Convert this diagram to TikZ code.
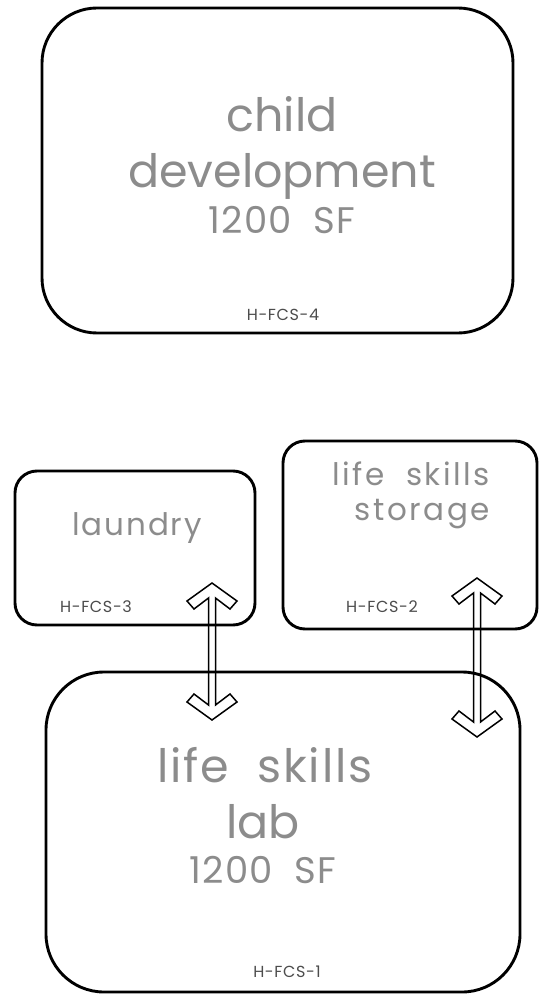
\documentclass[tikz,border=0pt]{standalone}
\usepackage{fontspec}
\setmainfont{Poppins}[WordSpace=2]
\usetikzlibrary{calc}
\tikzset{
  room/.style={draw,line width=2.9pt,rounded corners=#1,inner sep=0pt},
  roomname/.style={anchor=base,text=black!45,inner sep=0pt},
  idtag/.style={anchor=base,text=black!70,inner sep=0pt,font=\fontsize{16}{18}\selectfont\addfontfeature{LetterSpace=4}},
  passage/.style={draw,line width=1.5pt,line join=miter}
}
\newcommand{\twoway}[2]{%
  \draw[passage] (#1) -- ($(#1)+(25,18)$) -- ($(#1)+(18,26)$) -- ($(#1)+(3.5,15)$)
    -- ($(#2)+(3.5,-15)$) -- ($(#2)+(18,-26)$) -- ($(#2)+(25,-18)$) -- (#2)
    -- ($(#2)+(-25,-18)$) -- ($(#2)+(-18,-26)$) -- ($(#2)+(-3.5,-15)$)
    -- ($(#1)+(-3.5,15)$) -- ($(#1)+(-18,26)$) -- ($(#1)+(-25,18)$) -- cycle;}

\begin{document}
\begin{tikzpicture}[x=1pt,y=-1pt]
    \useasboundingbox (0,0) rectangle (539,995);
    \node[room=55pt,minimum width=471pt,minimum height=325pt] (child) at (277.5,170.5) {};
    \node[room=22pt,minimum width=240pt,minimum height=154pt] (laundry) at (135,548) {};
    \node[room=22pt,minimum width=254pt,minimum height=188pt] (storage) at (410,535) {};
    \node[room=58pt,minimum width=474pt,minimum height=320pt] (lab) at (283,832) {};
    \node[roomname,font=\fontsize{46}{50}\selectfont] (childa) at (282,132) {child};
    \node[roomname,font=\fontsize{46}{50}\selectfont] (childb) at (282,188) {development};
    \node[roomname,font=\fontsize{37}{40}\selectfont\addfontfeature{LetterSpace=3}] (childc) at (282,233) {1200 SF};
    \node[idtag] (childtag) at (283,320) {H-FCS-4};
    \node[roomname,font=\fontsize{31}{34}\selectfont\addfontfeature{LetterSpace=6}] (laundrya) at (137,535) {laundry};
    \node[idtag] (laundrytag) at (96,612) {H-FCS-3};
    \node[roomname,anchor=base east,font=\fontsize{31}{34}\selectfont\addfontfeature{LetterSpace=8}] (storagea) at (490,485) {life skills};
    \node[roomname,anchor=base east,font=\fontsize{31}{34}\selectfont\addfontfeature{LetterSpace=8}] (storageb) at (490,520) {storage};
    \node[idtag] (storagetag) at (382,612) {H-FCS-2};
    \node[roomname,font=\fontsize{46}{50}\selectfont\addfontfeature{LetterSpace=4}] (laba) at (265,782) {life skills};
    \node[roomname,font=\fontsize{46}{50}\selectfont] (labb) at (263,838) {lab};
    \node[roomname,font=\fontsize{37}{40}\selectfont\addfontfeature{LetterSpace=3}] (labc) at (263,883) {1200 SF};
    \node[idtag] (labtag) at (287,977) {H-FCS-1};
    \coordinate (lt) at (212,583);
    \coordinate (lb) at (212,720);
    \coordinate (rt) at (477,578);
    \coordinate (rb) at (477,737);
    \twoway{lt}{lb}
    \twoway{rt}{rb}
\end{tikzpicture}
\end{document}
